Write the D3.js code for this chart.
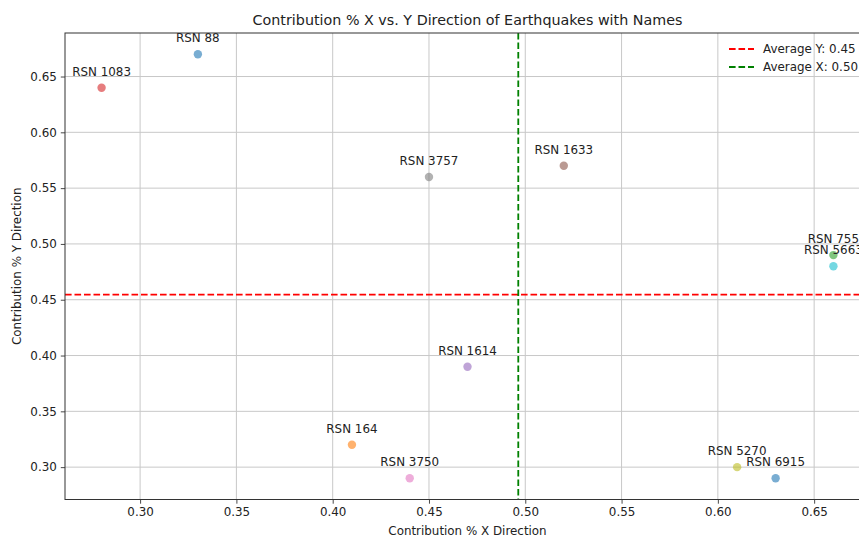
<!DOCTYPE html>
<html>
<head>
<meta charset="utf-8">
<script src="https://cdn.jsdelivr.net/npm/d3@7"></script>
<style>
  html, body { margin: 0; padding: 0; background: #ffffff; }
  svg { display: block; font-family: "DejaVu Sans", sans-serif; }
</style>
</head>
<body>
<svg id="chart" width="859" height="539"></svg>
<script>
// ---- data ----
const names = ["RSN 88", "RSN 164", "RSN 755", "RSN 1083", "RSN 1614", "RSN 1633",
               "RSN 3750", "RSN 3757", "RSN 5270", "RSN 5663", "RSN 6915"];
const xValues = [0.33, 0.41, 0.66, 0.28, 0.47, 0.52, 0.44, 0.45, 0.61, 0.66, 0.63];
const yValues = [0.67, 0.32, 0.49, 0.64, 0.39, 0.57, 0.29, 0.56, 0.30, 0.48, 0.29];
const pointColors = ["#1f77b4", "#ff7f0e", "#2ca02c", "#d62728", "#9467bd", "#8c564b",
                     "#e377c2", "#7f7f7f", "#bcbd22", "#17becf", "#1f77b4"];
const xTicks = [0.30, 0.35, 0.40, 0.45, 0.50, 0.55, 0.60, 0.65];
const yTicks = [0.30, 0.35, 0.40, 0.45, 0.50, 0.55, 0.60, 0.65];
const titleText = "Contribution % X vs. Y Direction of Earthquakes with Names";
const xLabelText = "Contribution % X Direction";
const yLabelText = "Contribution % Y Direction";

// ---- layout ----
const svg = d3.select("#chart");
const pLeft = 65, pRight = 870, pTop = 33, pBottom = 499.5;
const fs = 11.9;

function padded(vals) {
  const [a, b] = d3.extent(vals);
  const p = (b - a) * 0.05;
  return [a - p, b + p];
}
const x = d3.scaleLinear().domain(padded(xValues)).range([pLeft, pRight]);
const y = d3.scaleLinear().domain(padded(yValues)).range([pBottom, pTop]);

const avgX = d3.mean(xValues);
const avgY = d3.mean(yValues);

// grid
const grid = svg.append("g");
grid.selectAll(".gx").data(xTicks).enter().append("line")
  .attr("x1", d => x(d)).attr("x2", d => x(d)).attr("y1", pTop).attr("y2", pBottom)
  .attr("stroke", "#c8c8c8").attr("stroke-width", 1);
grid.selectAll(".gy").data(yTicks).enter().append("line")
  .attr("y1", d => y(d)).attr("y2", d => y(d)).attr("x1", pLeft).attr("x2", pRight)
  .attr("stroke", "#c8c8c8").attr("stroke-width", 1);

// axes
const xAxis = svg.append("g").attr("transform", `translate(0,${pBottom})`)
  .call(d3.axisBottom(x).tickValues(xTicks).tickFormat(d3.format(".2f")).tickSizeInner(4.2).tickSizeOuter(0).tickPadding(4));
const yAxis = svg.append("g").attr("transform", `translate(${pLeft},0)`)
  .call(d3.axisLeft(y).tickValues(yTicks).tickFormat(d3.format(".2f")).tickSizeInner(4.2).tickSizeOuter(0).tickPadding(4));
[xAxis, yAxis].forEach(a => {
  a.select(".domain").remove();
  a.selectAll("text").attr("font-size", fs).attr("fill", "#222").attr("font-family", "DejaVu Sans");
  a.selectAll("line").attr("stroke", "#333").attr("stroke-width", 0.9);
});

// average lines
svg.append("line")
  .attr("x1", pLeft).attr("x2", pRight).attr("y1", y(avgY)).attr("y2", y(avgY))
  .attr("stroke", "#ff0000").attr("stroke-width", 1.8).attr("stroke-dasharray", "6.6,2.9");
svg.append("line")
  .attr("x1", x(avgX)).attr("x2", x(avgX)).attr("y1", pTop).attr("y2", pBottom)
  .attr("stroke", "#008000").attr("stroke-width", 1.8).attr("stroke-dasharray", "6.6,2.9");

// points
const idx = d3.range(names.length);
svg.append("g").selectAll("circle").data(idx).enter().append("circle")
  .attr("cx", i => x(xValues[i])).attr("cy", i => y(yValues[i])).attr("r", 4.2)
  .attr("fill", i => pointColors[i]).attr("fill-opacity", 0.6);

// annotations
svg.append("g").selectAll("text").data(idx).enter().append("text")
  .attr("x", i => x(xValues[i])).attr("y", i => y(yValues[i]) - 12)
  .attr("text-anchor", "middle").attr("font-size", fs).attr("fill", "#222")
  .text(i => names[i]);

// spines
svg.append("rect").attr("x", pLeft).attr("y", pTop).attr("width", pRight - pLeft).attr("height", pBottom - pTop)
  .attr("fill", "none").attr("stroke", "#333").attr("stroke-width", 1);

// title & labels
svg.append("text").attr("x", (pLeft + pRight) / 2).attr("y", 25).attr("text-anchor", "middle")
  .attr("font-size", 14.3).attr("fill", "#222").text(titleText);
svg.append("text").attr("x", (pLeft + pRight) / 2).attr("y", 535).attr("text-anchor", "middle")
  .attr("font-size", fs).attr("fill", "#222").text(xLabelText);
svg.append("text").attr("transform", `translate(21,${(pTop + pBottom) / 2}) rotate(-90)`)
  .attr("text-anchor", "middle").attr("font-size", fs).attr("fill", "#222").text(yLabelText);

// legend
const legendItems = [
  { label: "Average Y: " + d3.format(".2f")(avgY), color: "#ff0000" },
  { label: "Average X: " + d3.format(".2f")(avgX), color: "#008000" }
];
const lg = svg.append("g");
legendItems.forEach((d, i) => {
  const ly = 49 + i * 18;
  lg.append("line").attr("x1", 729).attr("x2", 754).attr("y1", ly).attr("y2", ly)
    .attr("stroke", d.color).attr("stroke-width", 1.8).attr("stroke-dasharray", "6.6,2.9");
  lg.append("text").attr("x", 763).attr("y", ly + 4.3).attr("font-size", fs).attr("fill", "#222").text(d.label);
});
</script>
</body>
</html>
